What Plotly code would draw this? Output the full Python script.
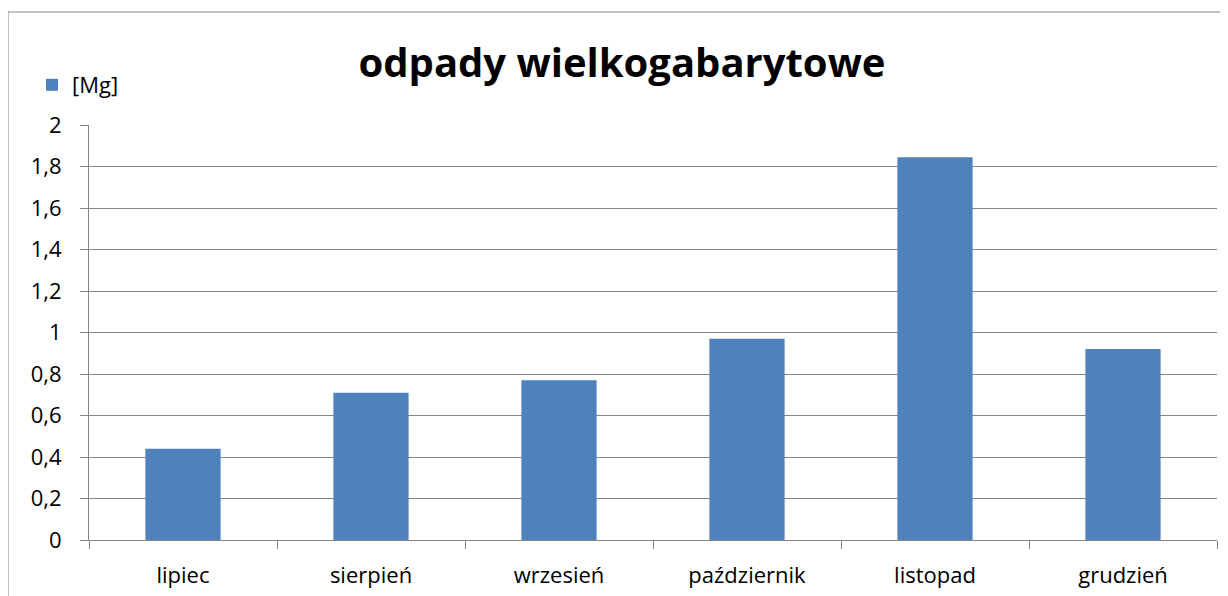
import plotly.graph_objects as go

categories = ["lipiec", "sierpień", "wrzesień", "październik", "listopad", "grudzień"]
values = [0.44, 0.71, 0.77, 0.97, 1.845, 0.92]
series_name = "[Mg]"
title_text = "odpady wielkogabarytowe"

W, H = 1228, 596
OFF = 8  # page body margin
# plot area in page pixels: x 89..1217, y 125..540
L = 89 - OFF
T = 125 - OFF
R = W - (1217 - OFF)
B = H - (540 - OFF)
pw, ph = W - L - R, H - T - B

def px_x(p):  # page pixel -> paper
    return (p - OFF - L) / pw

def px_y(p):
    return (H - B - (p - OFF)) / ph

FONT = "Open Sans"
grid = "#868686"

fig = go.Figure(go.Bar(x=categories, y=values, name=series_name,
                       marker=dict(color="#4F81BD", line=dict(width=0))))

fig.update_layout(
    width=W, height=H,
    margin=dict(l=L, r=R, t=T, b=B, autoexpand=False),
    paper_bgcolor="white", plot_bgcolor="white",
    separators=", ",
    bargap=0.6,
    font=dict(family=FONT, size=22, color="black"),
    title=dict(text="<b>" + title_text + "</b>", x=(622 - OFF) / W, xanchor="center",
               y=1 - 55 / H, yanchor="middle",
               font=dict(family=FONT, size=40, color="black")),
    showlegend=True,
    legend=dict(x=px_x(32), xanchor="left", y=px_y(85), yanchor="middle",
                font=dict(family=FONT, size=22), bgcolor="rgba(0,0,0,0)",
                itemwidth=30),
    xaxis=dict(showgrid=False, showline=True, linecolor=grid, linewidth=1,
               ticks="outside", ticklen=8, tickcolor=grid, tickson="boundaries",
               tickfont=dict(family=FONT, size=22), ticklabelstandoff=16),
    yaxis=dict(range=[0, 2], dtick=0.2, showgrid=True, gridcolor=grid, gridwidth=1,
               showline=True, linecolor=grid, linewidth=1, zeroline=False,
               ticks="outside", ticklen=8, tickcolor=grid,
               tickfont=dict(family=FONT, size=22), ticklabelstandoff=14),
)

fig.add_shape(type="rect", xref="paper", yref="paper",
              x0=px_x(8), x1=px_x(1226), y0=px_y(640), y1=px_y(12),
              line=dict(color="#888888", width=1), layer="below")

fig.write_html("out.html")
